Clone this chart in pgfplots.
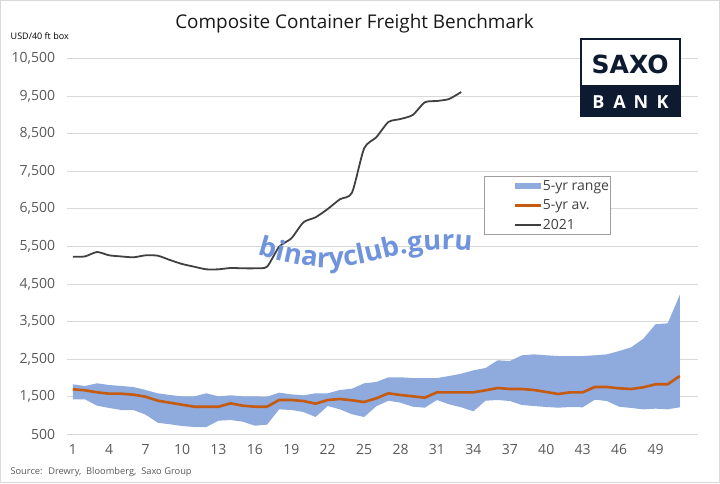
\documentclass[border=0pt]{standalone}
\usepackage{fontspec}
\setmainfont{Open Sans}
\newfontfamily\logofont{DejaVu Sans}
\usepackage{pgfplots}
\pgfplotsset{compat=1.18}
\usepackage{pgfplotstable}
\usepgfplotslibrary{fillbetween}
\usetikzlibrary{decorations.text}

\definecolor{band}{HTML}{8FAADC}
\definecolor{avgc}{HTML}{C55A11}
\definecolor{linec}{HTML}{404040}
\definecolor{gridc}{HTML}{D9D9D9}
\definecolor{tickc}{HTML}{595959}
\definecolor{navy}{HTML}{0E1A30}
\definecolor{wm}{HTML}{6F93DD}

\pgfplotstableread{
x lo hi av
1 1431 1830 1697
2 1431 1785 1670
3 1261 1856 1617
4 1200 1811 1580
5 1146 1785 1580
6 1146 1758 1554
7 1022 1678 1500
8 809 1590 1394
9 766 1545 1340
10 721 1510 1287
11 694 1510 1234
12 694 1590 1234
13 862 1510 1234
14 880 1537 1324
15 835 1510 1261
16 729 1510 1234
17 756 1500 1234
18 1164 1607 1412
19 1146 1563 1412
20 1093 1537 1385
21 960 1590 1314
22 1253 1590 1412
23 1164 1678 1439
24 1032 1713 1404
25 960 1856 1359
26 1245 1891 1457
27 1394 2016 1590
28 1340 2016 1545
29 1234 1997 1510
30 1208 1997 1474
31 1412 1997 1617
32 1297 2050 1617
33 1218 2112 1617
34 1112 2201 1617
35 1394 2263 1670
36 1412 2468 1731
37 1385 2450 1705
38 1279 2601 1705
39 1253 2627 1678
40 1226 2601 1625
41 1208 2582 1572
42 1226 2582 1617
43 1218 2582 1617
44 1420 2601 1758
45 1385 2627 1758
46 1234 2715 1723
47 1200 2814 1705
48 1164 3043 1750
49 1182 3426 1830
50 1164 3452 1830
51 1218 4205 2050
}\rangetable

\pgfplotstableread{
x y
1 5223
2 5230
3 5348
4 5260
5 5230
6 5207
7 5260
8 5250
9 5136
10 5030
11 4957
12 4888
13 4888
14 4923
15 4915
16 4915
17 4957
18 5490
19 5710
20 6138
21 6271
22 6492
23 6750
24 6926
25 8106
26 8399
27 8806
28 8886
29 8992
30 9330
31 9365
32 9418
33 9604
}\yeartable

\begin{document}
\begin{tikzpicture}
\draw[gridc, line width=1pt] (0.5pt,0.5pt) rectangle (719.5pt,482.5pt);

\begin{axis}[
  at={(66.7pt,48.7pt)}, anchor=south west,
  scale only axis, width=631.3pt, height=376pt,
  xmin=0.5, xmax=52.5, ymin=500, ymax=10500,
  xtick={1,4,...,49},
  ytick={500,1500,...,10500},
  scaled ticks=false,
  axis line style={draw=none},
  major tick length=0pt,
  ymajorgrids,
  grid style={gridc, line width=0.8pt},
  tick label style={font=\fontsize{14}{14}\selectfont, text=tickc},
  /pgf/number format/1000 sep={,},
  /pgf/number format/assume math mode=true,
  xticklabel style={yshift=-7pt},
  yticklabel style={xshift=-8pt},
  clip=false,
  legend style={
    at={(0.6615,0.687)}, anchor=north west,
    draw=gray!75, line width=0.8pt,
    font=\fontsize{14}{16}\selectfont, text=linec,
    inner sep=0pt,
    row sep=0pt,
    cells={anchor=west},
    nodes={inner xsep=1pt, inner ysep=0pt},
  },
]
\addplot[name path=hi, draw=none, forget plot] table[x=x, y=hi] {\rangetable};
\addplot[name path=lo, draw=none, forget plot] table[x=x, y=lo] {\rangetable};
\addplot[fill=band, draw=none, forget plot] fill between[of=hi and lo];
\addplot[avgc, line width=2.6pt, forget plot] table[x=x, y=av] {\rangetable};
\addplot[linec, line width=1.8pt, smooth, tension=0.4, forget plot] table[x=x, y=y] {\yeartable};

\addlegendimage{legend image code/.code={\path[draw=none,fill=none] (-30pt,-9.7pt) rectangle (26pt,9.7pt); \fill[band, draw=none] (0pt,-3pt) rectangle (26pt,3pt);}}
\addlegendentry{5-yr range\hspace{30pt}}
\addlegendimage{legend image code/.code={\path[draw=none,fill=none] (-30pt,-9.7pt) rectangle (26pt,9.7pt); \draw[avgc, line width=2.2pt] (0pt,0pt) -- (26pt,0pt);}}
\addlegendentry{5-yr av.}
\addlegendimage{legend image code/.code={\path[draw=none,fill=none] (-30pt,-9.7pt) rectangle (26pt,9.7pt); \draw[linec, line width=1.8pt] (0pt,0pt) -- (26pt,0pt);}}
\addlegendentry{2021}
\end{axis}

% titles and notes
\node[anchor=base, font=\fontsize{18.9}{18.9}\selectfont, text=black!90] at (354.5pt,454.7pt) {Composite Container Freight Benchmark};
\node[anchor=base west, inner sep=0pt, font=\fontsize{9}{9}\selectfont, text=black] at (10.5pt,443.7pt) {USD/40 ft box};
\node[anchor=base west, inner sep=0pt, font=\fontsize{9.3}{9.3}\selectfont, text=tickc] at (10.3pt,8.7pt) {Source:~ Drewry,~ Bloomberg,~ Saxo Group};

% logo
\fill[navy] (580pt,365.7pt) rectangle (680.7pt,444.7pt);
\fill[white] (582.2pt,397.7pt) rectangle (678.5pt,442.5pt);
\node[font=\logofont\bfseries\fontsize{25}{25}\selectfont, text=navy, inner sep=0pt, anchor=base] at (630.2pt,409.7pt) {SAXO};
\begin{scope}[every node/.style={font=\fontsize{18}{18}\selectfont\bfseries, text=white, inner sep=0pt, anchor=base}]
\node at (598.3pt,374.7pt) {B};
\node at (619.5pt,374.7pt) {A};
\node at (641pt,374.7pt) {N};
\node at (662.5pt,374.7pt) {K};
\end{scope}

% watermark
\path[decorate, decoration={text along path, text align=center,
  text={|\fontsize{27.3}{27.3}\selectfont\bfseries\color{wm}|binaryclub.guru}}]
  plot[smooth, tension=0.7] coordinates {(254pt,230pt) (330pt,215.5pt) (420pt,232pt) (476pt,231pt)};
\end{tikzpicture}
\end{document}
